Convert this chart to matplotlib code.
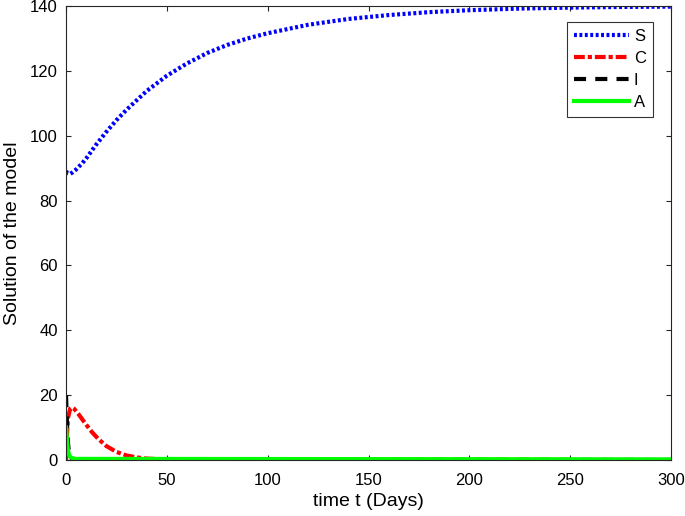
import matplotlib.pyplot as plt

plt.rcParams['font.family'] = ['Liberation Sans', 'DejaVu Sans']

# S compartment
t_s = [0, 1, 2, 3, 5, 8, 10, 15, 20, 25, 30, 40, 50, 60, 70, 80, 90, 100,
       120, 140, 160, 180, 200, 225, 250, 275, 300]
s_vals = [89, 88.4, 88.2, 88.6, 89.6, 91.5, 93, 97.3, 101.2, 104.8, 108, 113.8,
          118.5, 122.3, 125.5, 128, 130, 131.6, 134.2, 136, 137.2, 138.1, 138.7,
          139.2, 139.5, 139.7, 139.8]

# C compartment
t_c = [0, 0.5, 1, 2, 3, 4, 6, 8, 10, 13, 16, 20, 25, 30, 35, 40, 50, 60, 300]
c_vals = [0, 8, 13, 15.8, 16.2, 15.8, 14.3, 12.6, 10.9, 8.5, 6.5, 4.3, 2.5,
          1.4, 0.8, 0.45, 0.15, 0.05, 0]

# I compartment
t_i = [0, 0.3, 0.6, 1, 1.5, 2, 3, 300]
i_vals = [20, 14, 9, 5, 2, 0.8, 0.2, 0]

# A compartment
t_a = [0, 0.5, 1, 1.5, 2, 3, 5, 300]
a_vals = [10, 6, 2.8, 1.5, 1.0, 0.6, 0.35, 0.2]

fig = plt.figure(figsize=(6.85, 5.16), dpi=100)
ax = fig.add_axes([0.0964, 0.1085, 0.8832, 0.8799])

ax.plot(t_s, s_vals, color='blue', linestyle=(0, (0.7, 0.6)), linewidth=3, label='S')
ax.plot(t_c, c_vals, color='red', linestyle=(0, (2.6, 0.7, 1.0, 0.7)), linewidth=3, label='C')
ax.plot(t_i, i_vals, color='black', linestyle=(0, (2.9, 2.2)), linewidth=3, label='I')
ax.plot(t_a, a_vals, color='#00ff00', linestyle='-', linewidth=3, label='A')

ax.set_xlim(0, 300)
ax.set_ylim(0, 140)
ax.set_xticks(range(0, 301, 50))
ax.set_yticks(range(0, 141, 20))
ax.tick_params(direction='in', top=True, right=True, labelsize=12, length=3.5,
               color='#262626')
ax.tick_params(axis='x', pad=9.5)
ax.tick_params(axis='y', pad=6)
for sp in ax.spines.values():
    sp.set_linewidth(0.8)
    sp.set_color('#262626')

ax.set_xlabel('time t (Days)', fontsize=14, labelpad=3.5)
ax.set_ylabel('Solution of the model', fontsize=14, labelpad=6)

leg = ax.legend(loc='upper right', bbox_to_anchor=(0.970, 0.965), borderaxespad=0,
                fontsize=12, frameon=True, fancybox=False, edgecolor='black',
                handlelength=3.3, handletextpad=0.3, borderpad=0.42,
                labelspacing=0.42)
leg.get_frame().set_linewidth(0.8)

fig.savefig('out.png', dpi=100)
